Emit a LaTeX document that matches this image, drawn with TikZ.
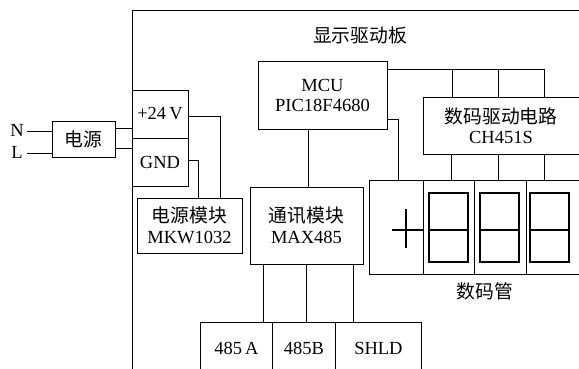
\documentclass[tikz,border=0pt]{standalone}
\usepackage{fontspec}
\setmainfont{Liberation Serif}
\newfontfamily\cjk{Noto Sans CJK SC}
\newcommand\zhtxt[1]{{\cjk\fontsize{18.8}{21}\selectfont #1}}
\begin{document}
\begin{tikzpicture}[x=1pt,y=-1pt, line width=0.9pt,
  every node/.style={font=\fontsize{18.5}{21}\selectfont, align=center},
  box/.style={draw, rectangle, inner sep=0pt, line width=0.9pt, align=center},
  seg/.style={draw, rectangle, inner sep=0pt, line width=1.1pt}]
\useasboundingbox (0,0) rectangle (579,368);
\clip (0,0) rectangle (579,368);
% board
\node[box, minimum width=700, minimum height=500, anchor=north west] (board) at (132,10) {};
\node (title) at (360,35) {\zhtxt{显示驱动板}};
% mains input
\node[box, minimum width=63, minimum height=36] (pwr) at (83.5,139) {\zhtxt{电源}};
\node (Nlab) at (17,130) {N};
\node (Llab) at (17,152) {L};
\coordinate (nEnd) at (27,131);
\coordinate (lEnd) at (27,153);
\draw (nEnd) -- (nEnd -| pwr.west);
\draw (lEnd) -- (lEnd -| pwr.west);
% terminals
\node[box, minimum width=56, minimum height=48] (v24) at (160,114) {+24\,V};
\node[box, minimum width=56, minimum height=48] (gnd) at (160,162) {GND};
\draw (pwr.east |- 0,128) -- (v24.west |- 0,128);
\draw (pwr.east |- 0,148) -- (gnd.west |- 0,148);
% power module
\node[box, minimum width=105, minimum height=55] (pmod) at (189.5,225.5) {\zhtxt{电源模块}\\MKW1032};
\draw (v24.east |- 0,116) -| (pmod.north -| 220,0);
\draw (gnd.east |- 0,160) -| (pmod.north -| 198,0);
% MCU
\node[box, minimum width=129, minimum height=68] (mcu) at (322.5,95) {MCU\\[-1pt]PIC18F4680};
% comm
\node[box, minimum width=113, minimum height=77] (comm) at (306.5,225.5) {\zhtxt{通讯模块}\\MAX485};
\draw (mcu.south -| 308,0) -- (comm.north -| 308,0);
% CH451S
\node[box, minimum width=300, minimum height=57, anchor=north west] (ch) at (423,97) {};
\node (chT) at (501,126) {\zhtxt{数码驱动电路}\\[-1pt]CH451S};
\coordinate (busA) at (452,69);
\coordinate (busB) at (498,69);
\coordinate (busC) at (544,69);
\draw (mcu.east |- busC) -- (busC) -- (ch.north -| busC);
\draw (busA) -- (ch.north -| busA);
\draw (busB) -- (ch.north -| busB);
% display
\node[box, minimum width=54, minimum height=94] (cell0) at (396,227) {};
\node[box, minimum width=51, minimum height=94] (cell1) at (448.5,227) {};
\node[box, minimum width=52, minimum height=94] (cell2) at (500,227) {};
\node[box, minimum width=200, minimum height=94, anchor=north west] (cell3) at (526,180) {};
\node (dispT) at (485,291) {\zhtxt{数码管}};
\draw (mcu.east |- 0,119) -| (cell0.north -| 398,0);
\draw (ch.south -| 451,0) -- (cell1.north -| 451,0);
\draw (ch.south -| 498,0) -- (cell2.north -| 498,0);
\draw (ch.south -| 544,0) -- (cell3.north -| 544,0);
% digits
\node[seg, minimum width=39, minimum height=69] (d1) at (448.5,227.5) {};
\node[seg, minimum width=39, minimum height=69] (d2) at (499.5,227.5) {};
\node[seg, minimum width=39, minimum height=69] (d3) at (549.5,227.5) {};
\draw[line width=1.1pt] (d1.west |- 0,230) -- (d1.east |- 0,230);
\draw[line width=1.1pt] (d2.west |- 0,230) -- (d2.east |- 0,230);
\draw[line width=1.1pt] (d3.west |- 0,230) -- (d3.east |- 0,230);
\draw[line width=1.1pt] (392,230) -- (cell0.east |- 0,230);
\draw[line width=1.1pt] (406,209) -- (406,248);
% RS485 terminals
\node[box, minimum width=72, minimum height=52, anchor=north west] (a485) at (200,322) {485\,A};
\node[box, minimum width=63, minimum height=52, anchor=north west] (b485) at (272,322) {485B};
\node[box, minimum width=86, minimum height=52, anchor=north west] (shld) at (335,322) {SHLD};
\draw (comm.south -| 263,0) -- (a485.north -| 263,0);
\draw (comm.south -| 306,0) -- (b485.north -| 306,0);
\draw (comm.south -| 353,0) -- (shld.north -| 353,0);
\end{tikzpicture}
\end{document}
